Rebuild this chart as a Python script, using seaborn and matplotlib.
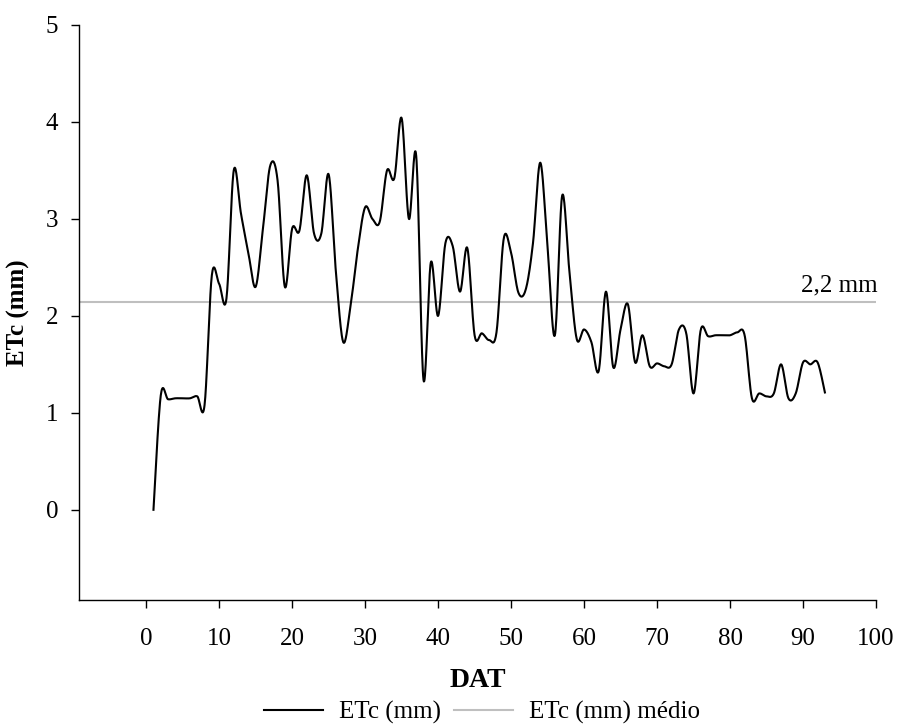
import numpy as np
import pandas as pd
import matplotlib
matplotlib.use("Agg")
import matplotlib.pyplot as plt
import seaborn as sns
from matplotlib.lines import Line2D

# ---- data ----
days = list(range(1, 94))
etc_mm = [
    0.00, 1.18, 1.14, 1.15, 1.15, 1.15, 1.17, 1.08, 2.42, 2.33,
    2.18, 3.50, 3.05, 2.65, 2.30, 2.90, 3.55, 3.40, 2.30, 2.90,
    2.88, 3.45, 2.85, 2.85, 3.46, 2.45, 1.73, 2.10, 2.69, 3.12,
    3.00, 2.97, 3.50, 3.42, 4.04, 3.00, 3.65, 1.34, 2.55, 2.00,
    2.75, 2.72, 2.25, 2.70, 1.80, 1.82, 1.75, 1.83, 2.80, 2.65,
    2.24, 2.27, 2.75, 3.58, 2.70, 1.80, 3.24, 2.45, 1.76, 1.86,
    1.73, 1.43, 2.25, 1.47, 1.86, 2.12, 1.52, 1.80, 1.48, 1.51,
    1.48, 1.50, 1.86, 1.82, 1.20, 1.86, 1.79, 1.80, 1.80, 1.80,
    1.83, 1.80, 1.15, 1.20, 1.17, 1.20, 1.50, 1.15, 1.20, 1.52,
    1.50, 1.52, 1.21,
]
etc_mean = 2.14
mean_label = "2,2 mm"
x_ticks = [0, 10, 20, 30, 40, 50, 60, 70, 80, 90, 100]
y_ticks = [0, 1, 2, 3, 4, 5]
series_names = ["ETc (mm)", "ETc (mm) médio"]


def smooth_path(xs, ys, n=20):
    """Smoothed line through the points (like a spreadsheet 'smoothed line')."""
    xs = np.asarray(xs, float)
    ys = np.asarray(ys, float)
    px = np.concatenate([[xs[0]], xs, [xs[-1]]])
    py = np.concatenate([[ys[0]], ys, [ys[-1]]])
    outx, outy = [], []
    t = np.linspace(0, 1, n, endpoint=False)
    for i in range(1, len(px) - 2):
        x0, x1, x2, x3 = px[i - 1:i + 3]
        y0, y1, y2, y3 = py[i - 1:i + 3]
        mx1, mx2 = (x2 - x0) / 2, (x3 - x1) / 2
        my1, my2 = (y2 - y0) / 2, (y3 - y1) / 2
        h00 = 2 * t**3 - 3 * t**2 + 1
        h10 = t**3 - 2 * t**2 + t
        h01 = -2 * t**3 + 3 * t**2
        h11 = t**3 - t**2
        outx.extend(h00 * x1 + h10 * mx1 + h01 * x2 + h11 * mx2)
        outy.extend(h00 * y1 + h10 * my1 + h01 * y2 + h11 * my2)
    outx.append(xs[-1])
    outy.append(ys[-1])
    return np.array(outx), np.array(outy)


sx, sy = smooth_path(days, etc_mm)
curve = pd.DataFrame({"DAT": sx, "ETc": sy})

plt.rcParams["font.family"] = ["Liberation Serif", "DejaVu Serif"]
fig = plt.figure(figsize=(8.98, 7.24), dpi=100)
ax = fig.add_axes([0.088, 0.1713, 0.8875, 0.7942])

ax.axhline(etc_mean, color="#BFBFBF", lw=1.5, zorder=1)
sns.lineplot(data=curve, x="DAT", y="ETc", sort=False, estimator=None,
             color="black", lw=1.5, ax=ax, zorder=2)

ax.set_xlim(-9.2, 100)
ax.set_ylim(-0.93, 5)
ax.set_xticks(x_ticks)
ax.set_yticks(y_ticks)
ax.tick_params(axis="x", direction="out", length=6, width=1, pad=14, labelsize=18)
ax.tick_params(axis="y", direction="out", length=6, width=1, pad=9, labelsize=18)
for s in ["top", "right"]:
    ax.spines[s].set_visible(False)
for s in ["left", "bottom"]:
    ax.spines[s].set_linewidth(1)
    ax.spines[s].set_color("black")

ax.set_xlabel("DAT", fontsize=20, fontweight="bold", labelpad=13)
ax.set_ylabel("ETc (mm)", fontsize=18, fontweight="bold", labelpad=11)

ax.text(100.2, etc_mean + 0.06, mean_label, ha="right", va="bottom", fontsize=18)

handles = [Line2D([], [], color="black", lw=1.5),
           Line2D([], [], color="#BFBFBF", lw=1.5)]
fig.legend(handles, series_names, loc="center", bbox_to_anchor=(0.537, 0.016),
           ncol=2, frameon=False, fontsize=18, handlelength=2.36, columnspacing=0.52,
           handletextpad=0.64, borderpad=0, borderaxespad=0)

fig.savefig("out.png", dpi=100)
